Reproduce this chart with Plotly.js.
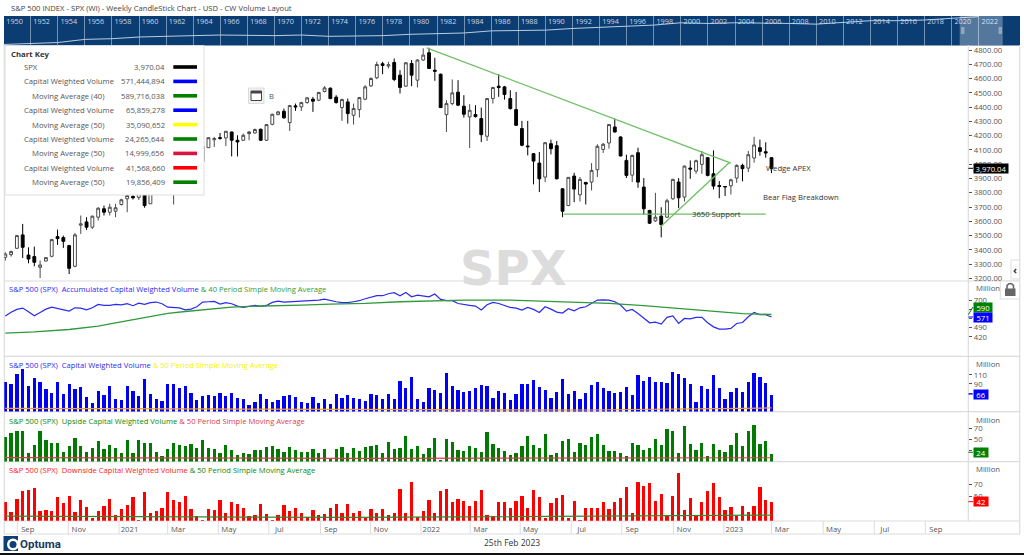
<!DOCTYPE html>
<html><head><meta charset="utf-8">
<script src="https://cdn.plot.ly/plotly-3.0.1.min.js"></script>
<style>html,body{margin:0;padding:0;background:#fff}#c{width:1024px;height:555px}</style>
</head><body><div id="c"></div>
<script>
const open_=[3348,3367,3411,3505,3364,3353,3278,3322,3355,3493,3486,3430,3285,3573,3596,3559,3629,3688,3664,3671,3718,3758,3774,3768,3835,3723,3885,3939,3915,3835,3845,3950,3917,3974,4020,4116,4172,4186,4184,4226,4168,4168,4215,4219,4245,4168,4280,4348,4371,4292,4409,4402,4432,4456,4449,4510,4533,4470,4397,4437,4343,4383,4456,4549,4606,4704,4688,4713,4624,4547,4706,4589,4730,4781,4659,4631,4348,4425,4505,4407,4332,4348,4320,4196,4460,4547,4542,4460,4383,4250,4128,4074,4008,3910,4144,4130,3828,3711,3917,3786,3873,3875,3962,4104,4149,4261,4191,4027,3924,4081,3840,3676,3603,3636,3629,3758,3875,3770,3973,3952,3999,4046,3933,3851,3844,3849,3903,3992,3973,4044,4116,4088,4046];
const high_=[3383,3395,3505,3582,3418,3423,3325,3348,3477,3542,3500,3435,3519,3641,3629,3641,3699,3711,3723,3723,3758,3840,3816,3860,3870,3890,3937,3950,3930,3960,3960,3983,3978,4020,4130,4191,4191,4219,4233,4228,4203,4215,4233,4250,4250,4282,4355,4374,4390,4416,4425,4437,4472,4472,4507,4547,4538,4484,4460,4460,4425,4472,4554,4608,4718,4718,4718,4741,4659,4716,4730,4737,4812,4816,4746,4635,4449,4594,4589,4484,4421,4414,4397,4465,4542,4631,4549,4519,4507,4304,4304,4079,4086,4156,4172,4163,3833,3910,3940,3910,3875,4008,4140,4149,4280,4320,4196,4067,4067,4116,3903,3681,3800,3699,3758,3898,3903,3992,4027,4032,4093,4051,4097,3882,3845,3898,3999,4004,4093,4193,4172,4154,4051];
const low_=[3325,3353,3407,3343,3306,3285,3203,3318,3348,3435,3414,3231,3278,3512,3540,3547,3606,3641,3641,3629,3711,3664,3753,3750,3695,3723,3880,3885,3790,3718,3845,3880,3855,3950,4015,4114,4121,4172,4128,4055,4055,4163,4168,4215,4163,4163,4273,4343,4320,4233,4374,4374,4425,4367,4442,4503,4456,4425,4304,4285,4278,4327,4449,4542,4596,4631,4671,4582,4496,4542,4547,4538,4725,4667,4585,4395,4226,4414,4407,4327,4114,4327,4156,4163,4425,4472,4453,4383,4268,4126,4062,3859,3805,3875,4069,3894,3629,3706,3734,3739,3718,3816,3910,4079,4109,4222,4055,3903,3875,3835,3645,3582,3596,3488,3624,3751,3692,3739,3898,3933,3933,3915,3823,3762,3777,3788,3870,3880,3945,4011,4060,4046,3938];
const close_=[3371,3388,3500,3418,3336,3313,3294,3346,3472,3479,3460,3271,3505,3582,3559,3636,3692,3664,3699,3695,3751,3781,3765,3841,3711,3886,3934,3906,3811,3842,3943,3913,3974,4019,4128,4186,4179,4182,4231,4168,4156,4203,4226,4243,4168,4278,4350,4367,4325,4411,4402,4432,4465,4442,4503,4535,4460,4432,4453,4355,4390,4467,4542,4601,4699,4692,4697,4594,4538,4711,4624,4730,4765,4671,4652,4397,4425,4500,4414,4350,4378,4334,4207,4460,4538,4538,4489,4390,4273,4133,4123,4022,3898,4151,4109,3898,3671,3908,3826,3894,3861,3957,4126,4140,4278,4226,4058,3922,4062,3875,3688,3587,3629,3578,3744,3894,3765,3987,3966,4025,4067,3922,3847,3844,3842,3891,3992,3969,4067,4135,4090,4079,3970];
const accVol=[578,608,629,639,611,580,606,631,646,636,629,616,641,639,626,641,667,659,659,667,664,672,657,677,667,680,685,672,646,644,641,626,631,649,685,687,690,669,680,672,654,644,652,659,652,659,682,692,685,687,690,692,695,700,700,707,695,687,680,680,687,695,710,720,733,733,748,756,733,758,725,738,730,725,746,705,695,695,674,664,659,654,624,664,682,674,659,644,639,624,644,629,606,649,631,608,601,634,618,641,649,674,700,702,700,687,662,616,629,598,563,527,532,517,568,580,522,560,557,568,568,527,496,479,479,484,522,529,573,606,588,588,571];
const accMaWeek=[0,5,11,16,19,22,25,28,31,34,36,39,42,45,51,56,62,68,74,79,87,93,99,104,110,116,122,127,132];
const accMa=[448,458,476,502,527,552,578,598,613,624,636,646,652,657,662,669,674,687,697,700,700,690,680,674,657,634,616,596,590];
const cwVol=[95,89,111,124,85,103,94,79,69,94,68,89,79,83,62,49,75,66,85,56,54,86,75,63,101,68,57,53,89,89,82,86,71,54,63,65,63,71,63,69,60,57,43,51,68,57,51,54,63,65,62,51,48,62,48,56,46,68,59,65,60,56,53,68,65,57,68,57,97,80,106,56,51,80,76,71,114,86,77,73,74,80,88,86,60,74,71,54,68,89,89,99,83,77,60,73,101,68,75,56,71,88,94,80,75,69,72,83,66,110,96,106,94,94,92,117,112,104,89,51,86,79,110,80,57,72,82,72,94,114,106,91,66];
const cwMaWeek=[0,40,80,100,132];
const cwMa=[36,34,32,32.5,37];
const upVol=[55,61,65,65,25,40,65,49,43,43,28,38,52,38,28,34,48,32,39,35,25,49,26,49,43,44,28,19,32,44,40,38,42,34,49,35,32,25,40,30,22,26,24,31,31,36,38,32,28,36,30,27,28,32,26,32,15,32,36,26,35,29,37,38,40,26,46,32,35,57,32,38,23,35,52,12,51,45,31,29,38,35,28,64,41,34,29,22,25,38,57,39,34,60,21,26,48,50,28,43,39,55,60,39,29,29,25,19,43,39,30,35,50,40,69,66,26,75,42,31,44,20,42,31,28,39,61,38,66,77,42,48,24];
const upMaWeek=[0,60,132];
const upMa=[17,15.5,16.7];
const downVol=[41,26,46,59,61,64,28,29,27,49,40,51,26,45,34,17,27,35,46,22,31,37,49,14,58,24,27,33,58,45,41,51,31,20,14,30,29,45,24,41,39,32,20,21,38,23,14,21,37,28,33,25,18,29,22,23,32,38,24,39,24,27,17,30,25,30,22,25,62,24,74,18,28,45,24,59,62,41,46,43,36,44,61,22,20,41,41,32,43,52,33,61,50,16,40,48,53,17,43,13,33,32,33,41,31,41,48,66,24,73,67,72,43,54,21,51,87,29,48,20,41,59,71,49,29,34,20,35,26,36,66,45,42];
const downMaWeek=[0,60,132];
const downMa=[19.5,17.4,21];
const weeks=close_.map((_,i)=>i);

const monthWeek=[2.07,10.85,19.6,27.97,36.7,45.4,54.3,62.9,71.6,80.1,88.7,97.5,106.2,115.1,123.8,132,140.9,149.7,158.5];
const monthLabels=['Sep','Nov','2021','Mar','May','Jul','Sep','Nov','2022','Mar','May','Jul','Sep','Nov','2023','Mar','May','Jul','Sep'];
const navYears=[1950,1952,1954,1956,1958,1960,1962,1964,1966,1968,1970,1972,1974,1976,1978,1980,1982,1984,1986,1988,1990,1992,1994,1996,1998,2000,2002,2004,2006,2008,2010,2012,2014,2016,2018,2020,2022];
const navValues=[17,22,25,47,54,76,93,100,113,100,100,113,87,93,100,130,140,170,260,300,300,420,510,590,830,1320,1150,1320,1320,1150,1000,1320,2000,2000,2300,3230,4500];
const priceTicks=[3200,3300,3400,3500,3600,3700,3800,3900,4000,4100,4200,4300,4400,4500,4600,4700,4800];
const accTicks=[420,490,560,630,700];
const accTickText=['420','490','','','700'];
const cwTicks=[70,90,110];
const cwTickText=['','90','110'];
const upTicks=[30,50,70];
const upTickText=['','50','70'];
const downTicks=[50,70];
const keyNames=['SPX','Capital Weighted Volume','Moving Average (40)','Capital Weighted Volume','Moving Average (50)','Capital Weighted Volume','Moving Average (50)','Capital Weighted Volume','Moving Average (50)'];
const keyIndent=[0,0,1,0,1,0,1,0,1];
const keyValues=['3,970.04','571,444,894','589,716,038','65,859,278','35,090,652','24,265,644','14,999,656','41,568,660','19,856,409'];
const keyColors=['#000000','#0000ff','#008000','#0000ff','#ffff00','#008000','#dc143c','#ff0000','#008000'];

const W=1024,H=555;
const X=px=>px/W, Y=py=>1-py/H;
const dom=(t,b)=>[1-b/H,1-t/H];
const FONT='"Open Sans", sans-serif';
const FS=7.7;
const GREY='#555';
const EDGE='#dcdcdc';

const bar=(y,c,name,vals)=>({type:'bar',x:weeks,y:vals,yaxis:y,xaxis:'x',name,width:0.56,marker:{color:c,line:{width:0}},showlegend:false,hoverinfo:'skip'});
const line=(y,c,w,name,xs,ys)=>({type:'scatter',mode:'lines',x:xs,y:ys,yaxis:y,xaxis:'x',name,line:{color:c,width:w},showlegend:false,hoverinfo:'skip'});

const traces=[
 {type:'scatter',mode:'lines',x:navYears,y:navValues,xaxis:'x2',yaxis:'y6',line:{color:'#b9cde0',width:1},showlegend:false,hoverinfo:'skip'},
 {type:'candlestick',x:weeks,open:open_,high:high_,low:low_,close:close_,xaxis:'x',yaxis:'y',name:'SPX',showlegend:false,hoverinfo:'skip',
  increasing:{line:{color:'#4a4a4a',width:1},fillcolor:'#ffffff'},decreasing:{line:{color:'#000000',width:1},fillcolor:'#000000'},whiskerwidth:0},
 line('y2','#2a2af0',1.2,'Accumulated CW Volume',weeks,accVol),
 line('y2','#2f9a3a',1.3,'MA 40',accMaWeek,accMa),
 bar('y3','#0000f5','CW Volume',cwVol),
 line('y3','#f0a030',1.2,'MA 50',cwMaWeek,cwMa),
 bar('y4','#007a00','Upside CW Volume',upVol),
 line('y4','#dc3c50',1.2,'MA 50',upMaWeek,upMa),
 bar('y5','#ff0000','Downside CW Volume',downVol),
 line('y5','#2f8a2f',1.2,'MA 50',downMaWeek,downMa)
];

const shapes=[];
const rect=(x0,y0,x1,y1,fill,lc,lw,layer)=>shapes.push({type:'rect',xref:'paper',yref:'paper',x0:X(x0),x1:X(x1),y0:Y(y0),y1:Y(y1),fillcolor:fill,line:{color:lc||fill,width:lw==null?0:lw},layer:layer||'above'});
const seg=(x0,y0,x1,y1,c,w,layer)=>shapes.push({type:'line',xref:'paper',yref:'paper',x0:X(x0),x1:X(x1),y0:Y(y0),y1:Y(y1),line:{color:c,width:w||1},layer:layer||'above'});

// navigator band
rect(4,16,1020,45.5,'#0b3d73',null,0,'below');
rect(959.7,16,1002.7,45.5,'rgba(255,255,255,0.30)',null,0,'above');
rect(961,27,964.5,34,'rgba(255,255,255,0.35)',null,0,'above');
rect(998.5,27,1002,34,'rgba(255,255,255,0.35)',null,0,'above');
// panel frame
[281,356.3,411.6,461.6,521,534].forEach(y=>seg(4.3,y,1019.7,y,EDGE,1.2,'below'));
seg(4.3,45,4.3,534,EDGE,1.2,'below');
seg(968.3,45,968.3,521,EDGE,1.2,'below');
seg(1019.7,45,1019.7,534,EDGE,1.2,'below');
// month separators in the date strip
monthWeek.forEach(w=>shapes.push({type:'line',xref:'x',yref:'paper',x0:w,x1:w,y0:Y(521),y1:Y(534),line:{color:EDGE,width:1},layer:'below'}));
// trend lines
const trend=(a,b,c,d)=>shapes.push({type:'line',xref:'x',yref:'y',x0:a,y0:b,x1:c,y1:d,line:{color:'#6cbf63',width:1.3},layer:'above'});
trend(72.6,4816,125,4008);
trend(112.8,3559,124.7,4011);
trend(96.2,3650,131,3650);
// chart key box
rect(5,45.5,204,195,'#ffffff','#dddddd',1,'above');
keyColors.forEach((c,i)=>rect(173.3,67+i*14.4-1.8,197,67+i*14.4+1.8,c,null,0,'above'));
// B icon
rect(248.5,88,264,103.5,'#f2f2f2','#dddddd',1,'above');
rect(251,91,261.5,100.5,'#ffffff','#444444',1,'above');
rect(251,91,261.5,93.5,'#444444',null,0,'above');
// value ticks at the right axis
[[168.3,'#000000'],[317,'#0000ff'],[394,'#0000ff'],[452.3,'#008000'],[501.7,'#ff0000']].forEach(v=>seg(968.3,v[0],973,v[0],v[1],1));
seg(968.3,314.7,973,307,'#008000',1);
// lock button
rect(1000.3,281,1019.7,299,'#ffffff','#dddddd',1,'above');
rect(1005,288.5,1015.5,296,'#666666',null,0,'above');
shapes.push({type:'path',xref:'paper',yref:'paper',path:`M ${X(1007)} ${Y(289)} L ${X(1007)} ${Y(285.5)} Q ${X(1010.2)} ${Y(281.5)} ${X(1013.5)} ${Y(285.5)} L ${X(1013.5)} ${Y(289)}`,line:{color:'#666666',width:1.6},fillcolor:'rgba(0,0,0,0)'});
// collapse button
rect(1011,260,1019.7,279,'#ffffff','#dddddd',1,'above');
// logo
rect(3.5,536,18,551,'#0d3f75',null,0,'above');
shapes.push({type:'circle',xref:'paper',yref:'paper',x0:X(7),x1:X(19),y0:Y(538.5),y1:Y(550.5),fillcolor:'#ffffff',line:{width:0}});
shapes.push({type:'circle',xref:'paper',yref:'paper',x0:X(9.5),x1:X(16.5),y0:Y(541),y1:Y(548),fillcolor:'#0d3f75',line:{width:0}});
// bottom edge
rect(0,553,1024,555,'#111111',null,0,'above');

const ann=[];
const txt=(px,py,t,o={})=>ann.push(Object.assign({xref:'paper',yref:'paper',x:X(px),y:Y(py),text:t,showarrow:false,xanchor:'left',yanchor:'middle',align:'left',borderpad:0,font:{family:FONT,size:FS,color:GREY}},o));

txt(10,8.3,'S&amp;P 500 INDEX - SPX (WI) - Weekly CandleStick Chart - USD - CW Volume Layout',{font:{family:FONT,size:7.65,color:'#444'}});
txt(10,53.5,'<b>Chart Key</b>',{font:{family:FONT,size:7.8,color:'#333'}});
keyNames.forEach((n,i)=>{
 txt(keyIndent[i]?31:22.7,67+i*14.4,n);
 txt(165.7,67+i*14.4,keyValues[i],{xanchor:'right'});
});
txt(268,96,'B',{font:{family:FONT,size:7.7,color:'#555'}});
txt(513,268,'<b>SPX</b>',{xanchor:'center',font:{family:'"DejaVu Sans", sans-serif',size:48,color:'#dcdcdc'}});
// chart notes
const note=(w,p,t)=>ann.push({xref:'x',yref:'y',x:w,y:p,text:t,showarrow:false,xanchor:'left',yanchor:'middle',borderpad:0,font:{family:FONT,size:FS,color:'#333'}});
note(130.8,3975,'Wedge APEX');
note(130.4,3770,'Bear Flag Breakdown');
note(118.1,3650,'3650 Support');
// panel titles
const span=(c,t)=>`<span style="color:${c}">${t}</span>`;
txt(8,289.3,span('#2a2af0','S&amp;P 500 (SPX)  Accumulated Capital Weighted Volume')+' '+span('#2f9a3a','&amp; 40 Period Simple Moving Average'),{font:{family:FONT,size:7.6,color:GREY}});
txt(8,365,span('#2a2af0','S&amp;P 500 (SPX)  Capital Weighted Volume')+' '+span('#f4f400','&amp; 50 Period Simple Moving Average'),{font:{family:FONT,size:7.6,color:GREY}});
txt(8,420.7,span('#0a8a0a','S&amp;P 500 (SPX)  Upside Capital Weighted Volume')+' '+span('#dc3c50','&amp; 50 Period Simple Moving Average'),{font:{family:FONT,size:7.6,color:GREY}});
txt(8,470,span('#ff2020','S&amp;P 500 (SPX)  Downside Capital Weighted Volume')+' '+span('#0a8a0a','&amp; 50 Period Simple Moving Average'),{font:{family:FONT,size:7.6,color:GREY}});
[288.3,364.3,420,469.3].forEach(y=>txt(974.7,y,'Million'));
// value tags
const tag=(py,t,c,w)=>ann.push({xref:'paper',yref:'paper',x:X(973),y:Y(py),text:t,showarrow:false,xanchor:'left',yanchor:'middle',align:'center',width:w,height:9,bgcolor:c,borderpad:0,font:{family:FONT,size:FS,color:'#fff'}});
tag(168.3,keyValues[0],'#000000',34);
tag(307,accMa[accMa.length-1].toString(),'#008000',18);
tag(317,accVol[accVol.length-1].toString(),'#0000ff',18);
tag(394,cwVol[cwVol.length-1].toString(),'#0000ff',14);
tag(452.3,upVol[upVol.length-1].toString(),'#008000',14);
tag(501.7,downVol[downVol.length-1].toString(),'#ff0000',14);
txt(1015.4,269.5,'<b>‹</b>',{xanchor:'center',font:{family:FONT,size:11,color:'#333'}});
txt(19,543.5,'<b>Optuma</b>',{font:{family:'Roboto, sans-serif',size:11.5,color:'#1a3a5c'}});
txt(512,542,'25th Feb 2023',{xanchor:'center',font:{family:FONT,size:8.5,color:'#333'}});

const yBase={side:'right',anchor:'x',showgrid:false,zeroline:false,showline:false,ticks:'outside',ticklen:3,tickwidth:1,tickcolor:'#555',tickfont:{family:FONT,size:FS,color:GREY},tickmode:'array',fixedrange:true};
const layout={
 width:W,height:H,margin:{l:0,r:0,t:0,b:0},paper_bgcolor:'#ffffff',plot_bgcolor:'rgba(0,0,0,0)',showlegend:false,bargap:0,barmode:'overlay',dragmode:false,
 xaxis:{domain:[X(4.3),X(968.3)],range:[-0.17,165.9],anchor:'y5',showgrid:false,zeroline:false,showline:false,ticks:'',tickmode:'array',tickvals:monthWeek.map(w=>w+1.8),ticktext:monthLabels,ticklabelstandoff:2,tickfont:{family:FONT,size:FS,color:GREY},rangeslider:{visible:false},fixedrange:true},
 xaxis2:{domain:[X(3),X(1019.7)],range:[1950-(3.6-3)/13.545,1950+(1019.7-3.6)/13.545],anchor:'y6',side:'top',showgrid:true,gridcolor:'rgba(200,215,235,0.55)',gridwidth:1,zeroline:false,showline:false,ticks:'',tickmode:'array',tickvals:navYears,ticktext:navYears.map(String),ticklabelposition:'inside',ticklabelshift:11,ticklabelstandoff:0,tickfont:{family:FONT,size:7.3,color:'#c8d8e8'},fixedrange:true},
 yaxis:Object.assign({},yBase,{domain:dom(45.5,281),range:[3182,4832],tickvals:priceTicks,ticktext:priceTicks.map(v=>v.toFixed(2))}),
 yaxis2:Object.assign({},yBase,{domain:dom(281,356.3),range:[272,845],tickvals:accTicks,ticktext:accTickText}),
 yaxis3:Object.assign({},yBase,{domain:dom(356.3,411.6),range:[29,151],tickvals:cwTicks,ticktext:cwTickText}),
 yaxis4:Object.assign({},yBase,{domain:dom(411.6,461.6),range:[9.7,100.6],tickvals:upTicks,ticktext:upTickText}),
 yaxis5:Object.assign({},yBase,{domain:dom(461.6,520.8),range:[12.1,105.5],tickvals:downTicks}),
 yaxis6:{domain:dom(16,45.5),type:'log',range:[1.14,3.71],anchor:'x2',showgrid:false,zeroline:false,showline:false,showticklabels:false,ticks:'',fixedrange:true},
 shapes,annotations:ann
};
Plotly.newPlot('c',traces,layout,{staticPlot:true,displayModeBar:false});
</script></body></html>
